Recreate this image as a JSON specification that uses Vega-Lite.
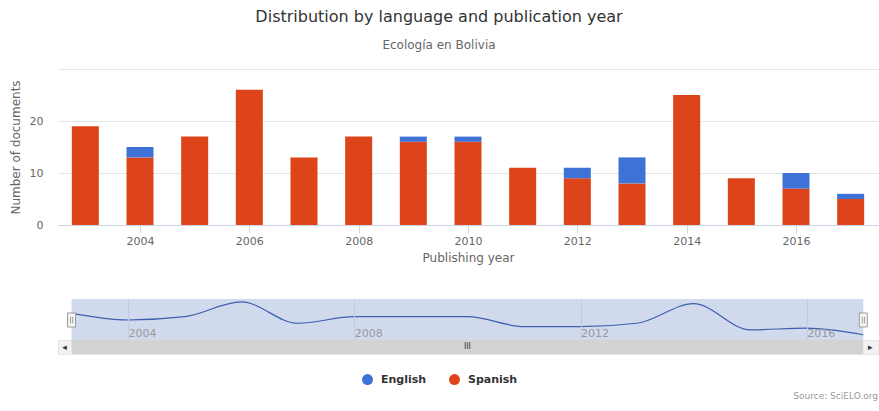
{
  "$schema": "https://vega.github.io/schema/vega-lite/v6.json",
  "padding": {"left": 9, "top": 9, "right": 0, "bottom": 0},
  "background": "white",
  "title": {
    "text": "Distribution by language and publication year",
    "subtitle": "Ecología en Bolivia",
    "anchor": "middle",
    "frame": "group",
    "dx": -29,
    "fontSize": 16,
    "fontWeight": "normal",
    "color": "#333333",
    "subtitleFontSize": 12,
    "subtitleColor": "#666666",
    "subtitlePadding": 15,
    "offset": 18
  },
  "datasets": {
    "docs": [
      {"year": 2003, "language": "Spanish", "count": 19},
      {"year": 2004, "language": "Spanish", "count": 13},
      {"year": 2004, "language": "English", "count": 2},
      {"year": 2005, "language": "Spanish", "count": 17},
      {"year": 2006, "language": "Spanish", "count": 26},
      {"year": 2007, "language": "Spanish", "count": 13},
      {"year": 2008, "language": "Spanish", "count": 17},
      {"year": 2009, "language": "Spanish", "count": 16},
      {"year": 2009, "language": "English", "count": 1},
      {"year": 2010, "language": "Spanish", "count": 16},
      {"year": 2010, "language": "English", "count": 1},
      {"year": 2011, "language": "Spanish", "count": 11},
      {"year": 2012, "language": "Spanish", "count": 9},
      {"year": 2012, "language": "English", "count": 2},
      {"year": 2013, "language": "Spanish", "count": 8},
      {"year": 2013, "language": "English", "count": 5},
      {"year": 2014, "language": "Spanish", "count": 25},
      {"year": 2015, "language": "Spanish", "count": 9},
      {"year": 2016, "language": "Spanish", "count": 7},
      {"year": 2016, "language": "English", "count": 3},
      {"year": 2017, "language": "Spanish", "count": 5},
      {"year": 2017, "language": "English", "count": 1}
    ],
    "range": [{"from": 2003, "to": 2017}],
    "handles": [{"year": 2003}, {"year": 2017}]
  },
  "bounds": "flush",
  "spacing": 74,
  "vconcat": [
    {
      "width": 820,
      "height": 156,
      "data": {"name": "docs"},
      "mark": {"type": "bar", "width": 27},
      "encoding": {
        "x": {
          "field": "year",
          "type": "quantitative",
          "scale": {"domain": [2002.5, 2017.5], "nice": false, "zero": false, "padding": 0},
          "axis": {
            "title": "Publishing year",
            "values": [2004, 2006, 2008, 2010, 2012, 2014, 2016],
            "format": "d",
            "grid": false,
            "domainColor": "#ccd6eb",
            "tickColor": "#ccd6eb",
            "tickSize": 8,
            "labelPadding": 2,
            "labelFontSize": 11,
            "labelColor": "#666666",
            "labelFlush": false,
            "titleFontSize": 12,
            "titleColor": "#666666",
            "titleFontWeight": "normal",
            "titlePadding": 6
          }
        },
        "y": {
          "field": "count",
          "type": "quantitative",
          "stack": "zero",
          "scale": {"domain": [0, 30], "nice": false},
          "axis": {
            "title": "Number of documents",
            "values": [0, 10, 20, 30],
            "labelExpr": "datum.value == 30 ? '' : datum.label",
            "domain": false,
            "ticks": false,
            "tickSize": 0,
            "labelPadding": 15,
            "labelDy": -4,
            "labelFontSize": 11,
            "labelColor": "#666666",
            "titleFontSize": 12,
            "titleColor": "#666666",
            "titleFontWeight": "normal",
            "titlePadding": 7,
            "gridColor": "#e6e6e6"
          }
        },
        "color": {
          "field": "language",
          "type": "nominal",
          "scale": {"domain": ["English", "Spanish"], "range": ["#3f72d6", "#de4419"]},
          "legend": {
            "title": null,
            "orient": "none",
            "legendX": 304,
            "legendY": 305,
            "direction": "horizontal",
            "symbolType": "circle",
            "symbolSize": 120,
            "symbolStrokeWidth": 0,
            "symbolOpacity": 1,
            "labelFontSize": 11,
            "labelFontWeight": "bold",
            "labelColor": "#333333",
            "labelOffset": 8,
            "columnPadding": 22
          }
        },
        "order": {"field": "language", "sort": "descending"},
        "tooltip": [
          {"field": "year", "title": "Year"},
          {"field": "language", "title": "Language"},
          {"field": "count", "title": "Documents"}
        ]
      }
    },
    {
      "bounds": "flush",
      "spacing": 0,
      "vconcat": [
        {
          "width": 820,
          "height": 41,
          "layer": [
            {
              "data": {"name": "range"},
              "mark": {"type": "rect", "color": "#6685c2", "opacity": 0.3},
              "encoding": {
                "x": {
                  "field": "from",
                  "type": "quantitative",
                  "scale": {"domain": [2002.76, 2017.26], "nice": false, "zero": false, "padding": 0},
                  "axis": {
                    "title": null,
                    "values": [2004, 2008, 2012, 2016],
                    "format": "d",
                    "grid": true,
                    "gridColor": "#c4cde0",
                    "domain": false,
                    "ticks": false,
                    "tickSize": 0,
                    "labelAlign": "left",
                    "labelBaseline": "alphabetic",
                    "labelPadding": -4,
                    "labelDx": 3,
                    "labelFontSize": 11,
                    "labelColor": "#999999",
                    "labelFlush": false,
                    "zindex": 1
                  }
                },
                "x2": {"field": "to"}
              }
            },
            {
              "data": {"name": "docs"},
              "mark": {"type": "line", "interpolate": "monotone", "color": "#3d5fb0", "strokeWidth": 1.2},
              "encoding": {
                "x": {"field": "year", "type": "quantitative"},
                "y": {
                  "aggregate": "sum",
                  "field": "count",
                  "type": "quantitative",
                  "scale": {"domain": [2.8, 27.8], "nice": false, "zero": false},
                  "axis": null
                }
              }
            },
            {
              "data": {"name": "handles"},
              "mark": {"type": "tick", "orient": "vertical", "size": 14, "thickness": 8, "color": "#f7f7f7", "stroke": "#999999", "strokeWidth": 1, "opacity": 1},
              "encoding": {
                "x": {"field": "year", "type": "quantitative"},
                "y": {"datum": 15, "type": "quantitative", "axis": null}
              }
            },
            {
              "data": {"name": "handles"},
              "mark": {"type": "text", "text": "||", "fontSize": 7, "color": "#666666"},
              "encoding": {
                "x": {"field": "year", "type": "quantitative"},
                "y": {"datum": 15, "type": "quantitative", "axis": null}
              }
            }
          ]
        },
        {
          "width": 820,
          "height": 14,
          "view": {"fill": "#f2f2f2", "stroke": "#e6e6e6"},
          "title": {
            "text": "Source: SciELO.org",
            "orient": "bottom",
            "anchor": "end",
            "fontSize": 9,
            "fontWeight": "normal",
            "color": "#999999",
            "offset": 38
          },
          "layer": [
            {
              "data": {"name": "range"},
              "mark": {"type": "rect", "color": "#d3d3d3"},
              "encoding": {
                "x": {
                  "field": "from",
                  "type": "quantitative",
                  "scale": {"domain": [2002.76, 2017.26], "nice": false, "zero": false, "padding": 0},
                  "axis": null
                },
                "x2": {"field": "to"}
              }
            },
            {
              "data": {"name": "range"},
              "mark": {"type": "text", "text": "◂", "dx": -7, "fontSize": 9, "color": "#333333"},
              "encoding": {"x": {"field": "from", "type": "quantitative"}}
            },
            {
              "data": {"name": "range"},
              "mark": {"type": "text", "text": "▸", "dx": 7, "fontSize": 9, "color": "#333333"},
              "encoding": {"x": {"field": "to", "type": "quantitative"}}
            },
            {
              "data": {"name": "range"},
              "mark": {"type": "text", "text": "III", "fontSize": 8, "color": "#333333"},
              "encoding": {"x": {"datum": 2010, "type": "quantitative"}}
            }
          ]
        }
      ]
    }
  ],
  "config": {
    "font": "DejaVu Sans",
    "view": {"stroke": null}
  }
}
